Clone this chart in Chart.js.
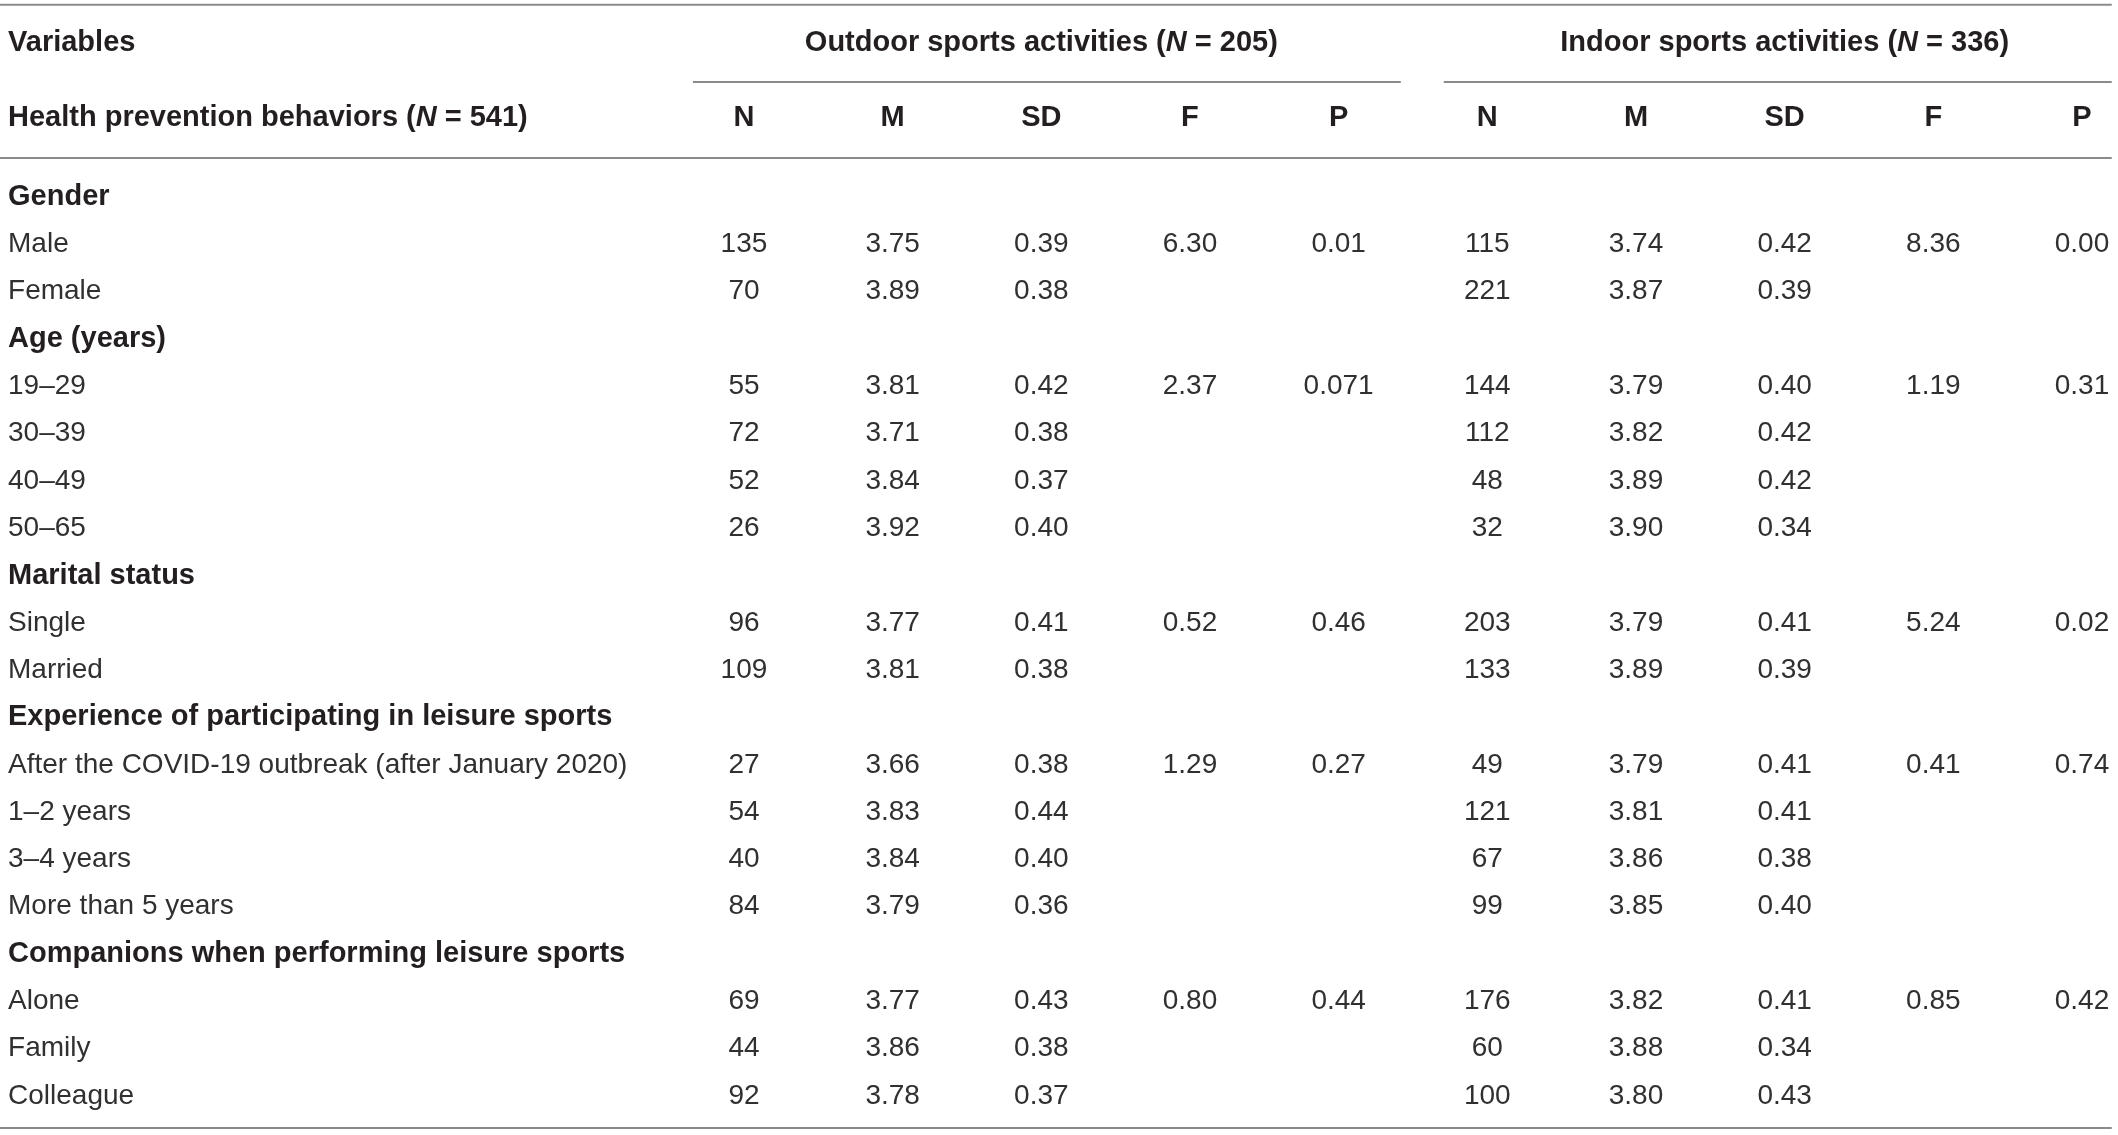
<!DOCTYPE html>
<html>
<head>
<meta charset="utf-8">
<script src="https://cdn.jsdelivr.net/npm/chart.js@4/dist/chart.umd.min.js"></script>
<style>
  html, body { margin: 0; padding: 0; background: #fff; }
  #wrap { width: 2118px; height: 1135px; position: relative; }
</style>
</head>
<body>
<div id="wrap"><canvas id="myChart"></canvas></div>
<script>
/* globals Chart */

// rows of the table (bold rows are the variable groups)
const rowLabels = [
  "Gender", "Male", "Female",
  "Age (years)", "19–29", "30–39", "40–49", "50–65",
  "Marital status", "Single", "Married",
  "Experience of participating in leisure sports",
  "After the COVID-19 outbreak (after January 2020)", "1–2 years", "3–4 years", "More than 5 years",
  "Companions when performing leisure sports", "Alone", "Family", "Colleague",
];
const groupRows = [0, 3, 8, 11, 16];

const columnLabels = ["N", "M", "SD", "F", "P", "N", "M", "SD", "F", "P"];
const groupTitles = ["Outdoor sports activities", "Indoor sports activities"];
const groupSizes = [205, 336];
const totalN = 541;

// outdoor sports activities
const outN = [null, "135", "70", null, "55", "72", "52", "26", null, "96", "109", null, "27", "54", "40", "84", null, "69", "44", "92"];
const outM = [null, "3.75", "3.89", null, "3.81", "3.71", "3.84", "3.92", null, "3.77", "3.81", null, "3.66", "3.83", "3.84", "3.79", null, "3.77", "3.86", "3.78"];
const outSD = [null, "0.39", "0.38", null, "0.42", "0.38", "0.37", "0.40", null, "0.41", "0.38", null, "0.38", "0.44", "0.40", "0.36", null, "0.43", "0.38", "0.37"];
const outF = [null, "6.30", null, null, "2.37", null, null, null, null, "0.52", null, null, "1.29", null, null, null, null, "0.80", null, null];
const outP = [null, "0.01", null, null, "0.071", null, null, null, null, "0.46", null, null, "0.27", null, null, null, null, "0.44", null, null];

// indoor sports activities
const inN = [null, "115", "221", null, "144", "112", "48", "32", null, "203", "133", null, "49", "121", "67", "99", null, "176", "60", "100"];
const inM = [null, "3.74", "3.87", null, "3.79", "3.82", "3.89", "3.90", null, "3.79", "3.89", null, "3.79", "3.81", "3.86", "3.85", null, "3.82", "3.88", "3.80"];
const inSD = [null, "0.42", "0.39", null, "0.40", "0.42", "0.42", "0.34", null, "0.41", "0.39", null, "0.41", "0.41", "0.38", "0.40", null, "0.41", "0.34", "0.43"];
const inF = [null, "8.36", null, null, "1.19", null, null, null, null, "5.24", null, null, "0.41", null, null, null, null, "0.85", null, null];
const inP = [null, "0.00", null, null, "0.31", null, null, null, null, "0.02", null, null, "0.74", null, null, null, null, "0.42", null, null];

const columns = [outN, outM, outSD, outF, outP, inN, inM, inSD, inF, inP];

// layout in scale units: x = column index, y = row index
const LABEL_X = -4.95;
const HEAD1_Y = -3.25;
const HEAD2_Y = -1.67;
const FONT = "'Liberation Sans', Arial, sans-serif";
const TEXT_BOLD = "#231f20";
const TEXT = "#303030";
const RULE = "#8a8a8a";

const plain = (t) => [{ t }];
const withN = (pre, post) => [{ t: pre }, { t: "N", italic: true }, { t: post }];

const labelPts = rowLabels.map((t, r) => ({
  x: LABEL_X, y: r, parts: plain(t), bold: groupRows.includes(r), align: "left",
}));
labelPts.push({ x: LABEL_X, y: HEAD1_Y, parts: plain("Variables"), bold: true, align: "left" });
labelPts.push({ x: LABEL_X, y: HEAD2_Y, parts: withN("Health prevention behaviors (", ` = ${totalN})`), bold: true, align: "left" });

const headPts = columnLabels.map((t, c) => ({ x: c, y: HEAD2_Y, parts: plain(t), bold: true, align: "center" }));
groupTitles.forEach((g, i) => {
  headPts.push({ x: 2 + i * 5, y: HEAD1_Y, parts: withN(g + " (", ` = ${groupSizes[i]})`), bold: true, align: "center" });
});

const cellPts = [];
columns.forEach((col, c) => {
  col.forEach((v, r) => {
    if (v !== null) cellPts.push({ x: c, y: r, parts: plain(v), bold: false, align: "center" });
  });
});

// horizontal rules: [y, xFrom, xTo]
const rules = [
  [-4.06, -5.004, 9.2],
  [-2.43, -0.343, 4.418],
  [-2.43, 4.707, 9.2],
  [-0.824, -5.004, 9.2],
  [19.675, -5.004, 9.2],
];

const ruleSets = rules.map(([y, a, b]) => ({
  type: "line",
  data: [{ x: a, y }, { x: b, y }],
  borderColor: RULE,
  borderWidth: 2,
  pointRadius: 0,
  showLine: true,
  clip: false,
  isText: false,
}));

const textSets = [labelPts, headPts, cellPts].map((pts) => ({
  type: "scatter",
  data: pts,
  pointRadius: 0,
  isText: true,
}));

function drawRich(ctx, parts, x, y, bold, align) {
  const fontFor = (p) => `${p.italic ? "italic " : ""}${bold ? "bold 29px" : "28px"} ${FONT}`;
  let w = 0;
  parts.forEach((p) => { ctx.font = fontFor(p); w += ctx.measureText(p.t).width; });
  let cx = align === "center" ? x - w / 2 : x;
  ctx.fillStyle = bold ? TEXT_BOLD : TEXT;
  parts.forEach((p) => {
    ctx.font = fontFor(p);
    ctx.fillText(p.t, cx, y);
    cx += ctx.measureText(p.t).width;
  });
}

const tableText = {
  id: "tableText",
  afterDatasetsDraw(chart) {
    const ctx = chart.ctx;
    ctx.save();
    ctx.textBaseline = "middle";
    ctx.textAlign = "left";
    chart.data.datasets.forEach((ds, i) => {
      if (!ds.isText) return;
      chart.getDatasetMeta(i).data.forEach((el, j) => {
        const d = ds.data[j];
        drawRich(ctx, d.parts, el.x, el.y, d.bold, d.align);
      });
    });
    ctx.restore();
  },
};

const ctx = document.getElementById("myChart").getContext("2d");

/* exported myChart */
const myChart = new Chart(ctx, {
  type: "scatter",
  data: { datasets: [...ruleSets, ...textSets] },
  options: {
    responsive: true,
    maintainAspectRatio: false,
    animation: false,
    layout: { padding: 0 },
    scales: {
      x: { type: "linear", min: -5.004, max: 9.242, display: false },
      y: { type: "linear", min: -4.163, max: 19.824, reverse: true, display: false },
    },
    plugins: {
      legend: { display: false },
      tooltip: { enabled: false },
      title: { display: false },
    },
    events: [],
  },
  plugins: [tableText],
});
</script>
</body>
</html>
